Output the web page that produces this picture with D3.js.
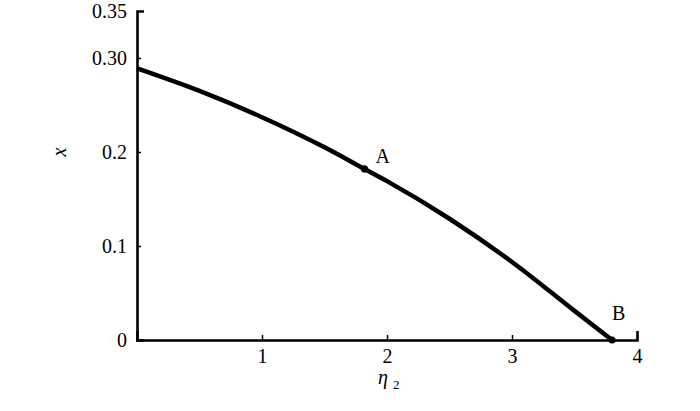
<!DOCTYPE html>
<html>
<head>
<meta charset="utf-8">
<script src="https://cdn.jsdelivr.net/npm/d3@7"></script>
<style>
  body { margin: 0; background: #fff; }
  svg { display: block; }
</style>
</head>
<body>
<svg id="chart" width="700" height="411"></svg>
<script>
// curve: eta2 -> x
var etaVals= [0, 0.5, 1, 1.5, 1.82, 2, 2.5, 3, 3.5, 3.8];
var xVals=   [0.289, 0.265, 0.237, 0.205, 0.182, 0.169, 0.129, 0.083, 0.031, 0];

// labelled points
var pointNames= ["A", "B"];
var pointEta= [1.82, 3.8];
var pointX= [0.182, 0];

// ticks
var xTickVals= [1, 2, 3, 4];
var xTickLabels= ["1", "2", "3", "4"];
var yTickVals= [0, 0.1, 0.2, 0.3, 0.35];
var yTickLabels= ["0", "0.1", "0.2", "0.30", "0.35"];

var svg= d3.select("#chart");
var font= "Liberation Serif, Times New Roman, serif";
var fs= 20;

var x= d3.scaleLinear().domain([0, 4]).range([137, 637]);
var y= d3.scaleLinear().domain([0, 0.35]).range([340, 11]);

//x axis
var xAxis= svg.append("g")
    .attr("transform", "translate(0," + y(0) + ")")
    .call(d3.axisBottom(x)
        .tickValues(xTickVals)
        .tickFormat(function(d, i) { return xTickLabels[i]; })
        .tickSizeInner(-5)
        .tickSizeOuter(-9)
        .tickPadding(9));

//y axis
var yAxis= svg.append("g")
    .attr("transform", "translate(" + x(0) + ",0)")
    .call(d3.axisLeft(y)
        .tickValues(yTickVals)
        .tickFormat(function(d, i) { return yTickLabels[i]; })
        .tickSizeInner(-4)
        .tickSizeOuter(-7)
        .tickPadding(10));

[xAxis, yAxis].forEach(function(a) {
    a.attr("font-family", font).attr("font-size", fs);
    a.select(".domain").attr("stroke", "#000").attr("stroke-width", 2.6);
    a.selectAll(".tick line").attr("stroke", "#000").attr("stroke-width", 1.5);
    a.selectAll(".tick text").attr("fill", "#000");
});
// no tick marks at the axis ends, the domain caps do that
yAxis.selectAll(".tick").filter(function(d) { return d == 0 || d == 0.35; }).select("line").remove();

//curve
var data= etaVals.map(function(e, i) { return [e, xVals[i]]; });
svg.append("path")
    .datum(data)
    .attr("fill", "none")
    .attr("stroke", "#000")
    .attr("stroke-width", 4.5)
    .attr("d", d3.line()
        .x(function(d) { return x(d[0]); })
        .y(function(d) { return y(d[1]); })
        .curve(d3.curveMonotoneX));

//points A and B
var pts= svg.selectAll("g.pt")
    .data(pointNames)
    .enter().append("g")
    .attr("class", "pt");

pts.append("circle")
    .attr("cx", function(d, i) { return x(pointEta[i]); })
    .attr("cy", function(d, i) { return y(pointX[i]); })
    .attr("r", 3.6)
    .attr("fill", "#000");

pts.append("text")
    .attr("x", function(d, i) { return x(pointEta[i]) + (i == 0 ? 11 : 0); })
    .attr("y", function(d, i) { return y(pointX[i]) - (i == 0 ? 6 : 20); })
    .attr("font-family", font)
    .attr("font-size", fs)
    .attr("fill", "#000")
    .text(function(d) { return d; });

//axis titles
svg.append("text")
    .attr("transform", "translate(66,152) rotate(-90)")
    .attr("text-anchor", "middle")
    .attr("font-family", font)
    .attr("font-style", "italic")
    .attr("font-size", fs)
    .text("x");

var xt= svg.append("text")
    .attr("x", 378)
    .attr("y", 384)
    .attr("font-family", font)
    .attr("font-size", fs);
xt.append("tspan").attr("font-style", "italic").text("η");
xt.append("tspan").attr("dx", 5).attr("dy", 5).attr("font-size", 13).text("2");
</script>
</body>
</html>
